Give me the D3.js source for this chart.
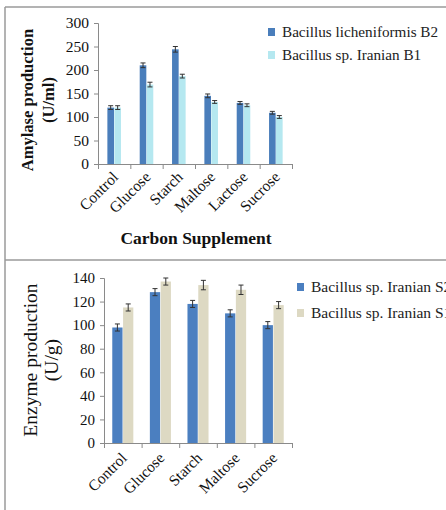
<!DOCTYPE html>
<html>
<head>
<meta charset="utf-8">
<script src="https://cdn.jsdelivr.net/npm/d3@7"></script>
<style>
  body { margin: 0; background: white; }
  svg { display: block; }
</style>
</head>
<body>
<svg id="chart"></svg>
<script>
// top panel: amylase
const carbonTop = ["Control", "Glucose", "Starch", "Maltose", "Lactose", "Sucrose"];
const b2Values = [120, 210, 244, 145, 130, 109];
const b2Errors = [4, 5, 6, 4, 3, 3];
const b1Values = [120, 169, 187, 132, 125, 100];
const b1Errors = [4, 5, 4, 3, 3, 3];
const topSeries = ["Bacillus licheniformis B2", "Bacillus sp. Iranian B1"];
const topTicks = [0, 50, 100, 150, 200, 250, 300];

// bottom panel: enzyme
const carbonBottom = ["Control", "Glucose", "Starch", "Maltose", "Sucrose"];
const s2Values = [98, 128, 118, 110, 100];
const s2Errors = [3, 3, 3, 3, 3];
const s1Values = [115, 137, 134, 130, 117];
const s1Errors = [3, 3, 4, 4, 3];
const bottomSeries = ["Bacillus sp. Iranian S2", "Bacillus sp. Iranian S1"];
const bottomTicks = [0, 20, 40, 60, 80, 100, 120, 140];

const W = 446, H = 510;
const font = "'Liberation Serif', 'Times New Roman', serif";
const svg = d3.select("#chart").attr("width", W).attr("height", H);
svg.append("rect").attr("width", W).attr("height", H).attr("fill", "white");

// frame lines
const frame = svg.append("g").attr("stroke", "#9a9a9a").attr("stroke-width", 1.5);
frame.append("line").attr("x1", 5).attr("x2", 5).attr("y1", 7).attr("y2", H);
frame.append("line").attr("x1", 5).attr("x2", W).attr("y1", 7).attr("y2", 7);
frame.append("line").attr("x1", 5).attr("x2", W).attr("y1", 260).attr("y2", 260);

function drawPanel(opt) {
  const g = svg.append("g");
  const x = d3.scaleBand().domain(opt.cats).range([opt.x0, opt.x1]).paddingInner(opt.pad).paddingOuter(opt.pad / 2);
  const xs = d3.scaleBand().domain([0, 1]).range([0, x.bandwidth()]).paddingInner(0.05);
  const y = d3.scaleLinear().domain([0, opt.ymax]).range([opt.y0, opt.y1]);

  // y axis
  const yAxis = g.append("g").attr("transform", `translate(${opt.x0},0)`)
    .call(d3.axisLeft(y).tickValues(opt.ticks).tickSize(4).tickPadding(5));
  yAxis.selectAll("text").attr("font-family", font).attr("font-size", opt.tickSize).attr("fill", "#111");
  yAxis.selectAll("line, path").attr("stroke", "#8a8a8a");

  // x axis with ticks at category boundaries
  const edge = d3.scaleLinear().domain([0, opt.cats.length]).range([opt.x0, opt.x1]);
  const xAxis = g.append("g").attr("transform", `translate(0,${opt.y0})`)
    .call(d3.axisBottom(edge).ticks(opt.cats.length).tickSize(5).tickFormat(""));
  xAxis.selectAll("line, path").attr("stroke", "#8a8a8a");

  const series = [opt.a, opt.b];
  series.forEach((s, si) => {
    const grp = g.append("g");
    grp.selectAll("rect").data(s.values).enter().append("rect")
      .attr("x", (d, i) => x(opt.cats[i]) + xs(si))
      .attr("y", d => y(d))
      .attr("width", xs.bandwidth())
      .attr("height", d => opt.y0 - y(d))
      .attr("fill", s.color);
    const eb = grp.selectAll("g.err").data(s.values).enter().append("g")
      .attr("stroke", "#333").attr("stroke-width", 1);
    eb.append("line")
      .attr("x1", (d, i) => x(opt.cats[i]) + xs(si) + xs.bandwidth() / 2)
      .attr("x2", (d, i) => x(opt.cats[i]) + xs(si) + xs.bandwidth() / 2)
      .attr("y1", (d, i) => y(d - s.errors[i]))
      .attr("y2", (d, i) => y(d + s.errors[i]));
    [1, -1].forEach(sign => {
      eb.append("line")
        .attr("x1", (d, i) => x(opt.cats[i]) + xs(si) + xs.bandwidth() / 2 - 2.5)
        .attr("x2", (d, i) => x(opt.cats[i]) + xs(si) + xs.bandwidth() / 2 + 2.5)
        .attr("y1", (d, i) => y(d + sign * s.errors[i]))
        .attr("y2", (d, i) => y(d + sign * s.errors[i]));
    });
  });

  // rotated category labels
  g.selectAll("text.cat").data(opt.cats).enter().append("text")
    .attr("class", "cat")
    .attr("transform", d => `translate(${x(d) + x.bandwidth() / 2 + 5},${opt.y0 + opt.catDy}) rotate(-45)`)
    .attr("text-anchor", "end")
    .attr("font-family", font).attr("font-size", opt.catSize).attr("fill", "#111")
    .text(d => d);

  // y title
  const yt = g.append("text")
    .attr("transform", `translate(${opt.titleX},${opt.titleY}) rotate(-90)`)
    .attr("text-anchor", "middle")
    .attr("font-family", font).attr("font-size", opt.titleSize)
    .attr("font-weight", opt.titleBold ? "bold" : "normal").attr("fill", "#111");
  yt.append("tspan").attr("x", 0).attr("dy", 0).text(opt.title[0]);
  yt.append("tspan").attr("x", 0).attr("dy", opt.titleGap).text(opt.title[1]);

  // legend
  const lg = g.append("g").attr("transform", `translate(${opt.legX},${opt.legY})`);
  series.forEach((s, i) => {
    lg.append("rect").attr("x", 0).attr("y", i * opt.legGap - 4).attr("width", 7).attr("height", 8).attr("fill", s.color);
    lg.append("text").attr("x", 14).attr("y", i * opt.legGap + 5)
      .attr("font-family", font).attr("font-size", opt.legSize).attr("fill", "#222")
      .text(s.name);
  });
  return g;
}

drawPanel({
  cats: carbonTop, x0: 98, x1: 292, y0: 164, y1: 23, ymax: 300, ticks: topTicks, pad: 0.58,
  a: { name: topSeries[0], values: b2Values, errors: b2Errors, color: "#4a7ebb" },
  b: { name: topSeries[1], values: b1Values, errors: b1Errors, color: "#b5e8f0" },
  tickSize: 15.5, catSize: 15.5, catDy: 14,
  title: ["Amylase production", "(U/ml)"], titleX: 33, titleY: 100, titleGap: 21, titleSize: 16.5, titleBold: true,
  legX: 268, legY: 32, legGap: 23, legSize: 15.2
});

svg.append("text").attr("x", 196).attr("y", 244).attr("text-anchor", "middle")
  .attr("font-family", font).attr("font-size", 17.5).attr("font-weight", "bold").attr("fill", "#111")
  .text("Carbon Supplement");

drawPanel({
  cats: carbonBottom, x0: 104, x1: 292, y0: 443, y1: 278, ymax: 140, ticks: bottomTicks, pad: 0.44,
  a: { name: bottomSeries[0], values: s2Values, errors: s2Errors, color: "#4b7fc0" },
  b: { name: bottomSeries[1], values: s1Values, errors: s1Errors, color: "#ddd9c3" },
  tickSize: 15, catSize: 15.5, catDy: 16,
  title: ["Enzyme production", "(U/g)"], titleX: 37, titleY: 360, titleGap: 21, titleSize: 19.5, titleBold: false,
  legX: 297, legY: 287, legGap: 26, legSize: 15.5
});
</script>
</body>
</html>
